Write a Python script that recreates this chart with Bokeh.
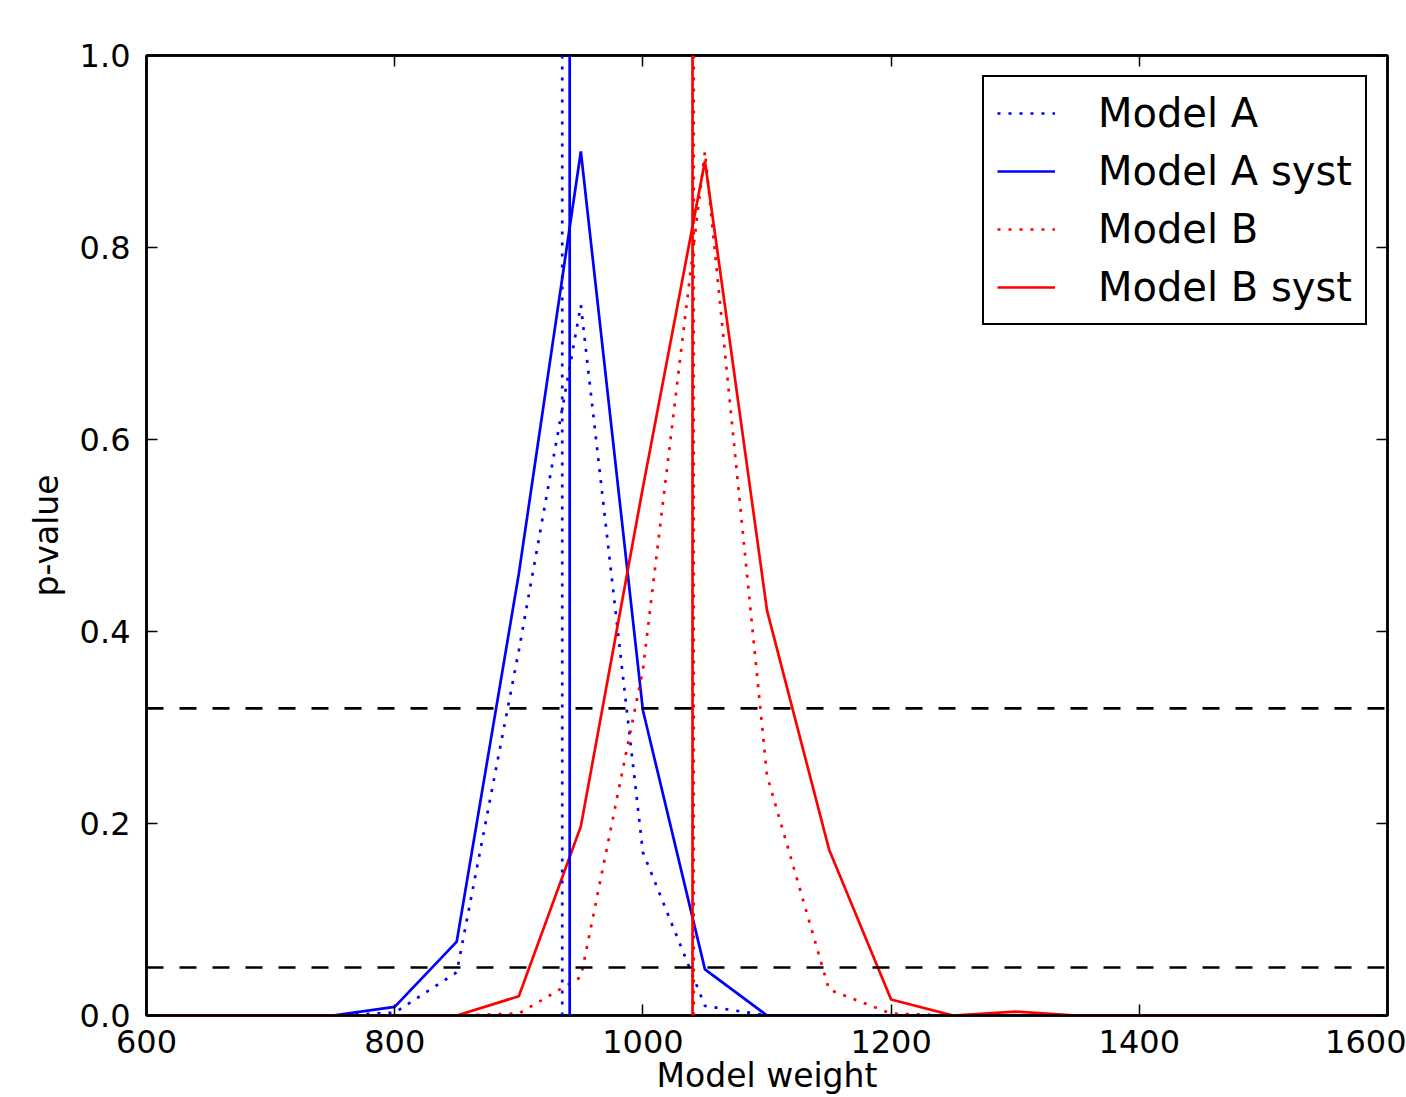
from bokeh.plotting import figure
from bokeh.models import Range1d, Span, LinearAxis, FixedTicker
from bokeh.embed import file_html
from bokeh.resources import INLINE

# ---------------- data ----------------
weights = [600, 650, 700, 750, 800, 850, 900, 950, 1000, 1050, 1100,
           1150, 1200, 1250, 1300, 1350, 1400, 1450, 1500, 1550, 1600]

model_a = [0, 0, 0, 0, 0.003, 0.045, 0.38, 0.74, 0.17, 0.01, 0.0,
           0, 0, 0, 0, 0, 0, 0, 0, 0, 0]
model_a_syst = [0, 0, 0, 0, 0.009, 0.077, 0.46, 0.90, 0.318, 0.048, 0.0,
                0, 0, 0, 0, 0, 0, 0, 0, 0, 0]
model_b = [0, 0, 0, 0, 0, 0, 0.002, 0.04, 0.36, 0.90, 0.25,
           0.027, 0.002, 0, 0, 0, 0, 0, 0, 0, 0]
model_b_syst = [0, 0, 0, 0, 0, 0, 0.02, 0.197, 0.55, 0.89, 0.422,
                0.173, 0.0166, 0.0, 0.004, 0.0, 0, 0, 0, 0, 0]

series_names = ["Model A", "Model A syst", "Model B", "Model B syst"]
best_fit = [935, 941, 1041, 1040]          # vertical lines, same order as series
thresholds = [0.32, 0.05]                   # horizontal dashed lines

x_ticks = [600, 800, 1000, 1200, 1400, 1600]
y_ticks = [0.0, 0.2, 0.4, 0.6, 0.8, 1.0]
y_tick_labels = ["0.0", "0.2", "0.4", "0.6", "0.8", "1.0"]

# ---------------- styles ----------------
FONT = "DejaVu Sans"
colors = ["#0000ff", "#0000ff", "#ff0000", "#ff0000"]
dashes = ["3 8", "solid", "3 8", "solid"]
LW = 2.7

p = figure(width=1406, height=1097, output_backend="svg", toolbar_location=None,
           x_range=Range1d(600, 1600), y_range=Range1d(0, 1),
           min_border_left=146, min_border_right=19, min_border_top=55,
           min_border_bottom=81,
           x_axis_label="Model weight", y_axis_label="p-value")
p.background_fill_color = "white"
p.border_fill_color = "white"
p.xgrid.visible = False
p.ygrid.visible = False
p.outline_line_color = "black"
p.outline_line_width = 2.5

series = [model_a, model_a_syst, model_b, model_b_syst]
for name, ys, c, d in zip(series_names, series, colors, dashes):
    p.line(weights, ys, line_color=c, line_width=LW, line_dash=d, legend_label=name)

for loc, c, d in zip(best_fit, colors, dashes):
    p.add_layout(Span(location=loc, dimension="height", line_color=c,
                      line_width=LW, line_dash=d))

for t in thresholds:
    p.add_layout(Span(location=t, dimension="width", line_color="black",
                      line_width=2.7, line_dash="17 16"))

bottom_ax = p.below[0]
left_ax = p.left[0]

# axes (matplotlib-like box with inward ticks on all sides)
top_ax = LinearAxis()
right_ax = LinearAxis()
p.add_layout(top_ax, "above")
p.add_layout(right_ax, "right")

for ax in (bottom_ax, top_ax):
    ax.ticker = FixedTicker(ticks=x_ticks)
for ax in (left_ax, right_ax):
    ax.ticker = FixedTicker(ticks=y_ticks)
left_ax.major_label_overrides = {v: s for v, s in zip(y_ticks, y_tick_labels)}

for ax in (bottom_ax, top_ax, left_ax, right_ax):
    ax.major_tick_in = 11
    ax.major_tick_out = 0
    ax.minor_tick_line_color = None
    ax.major_tick_line_color = "black"
    ax.major_tick_line_width = 1.5
    ax.axis_line_color = "black"
    ax.axis_line_width = 2.5
    ax.major_label_text_font = FONT
    ax.major_label_text_font_size = "32px"
    ax.major_label_text_color = "black"
    ax.axis_label_text_font = FONT
    ax.axis_label_text_font_size = "33px"
    ax.axis_label_text_font_style = "normal"
    ax.axis_label_text_color = "black"

top_ax.major_label_overrides = {v: "" for v in x_ticks}
right_ax.major_label_overrides = {v: "" for v in y_ticks}
for ax in (top_ax, right_ax):
    ax.major_label_standoff = 0

bottom_ax.major_label_standoff = 14
bottom_ax.axis_label_standoff = 0
left_ax.major_label_standoff = 16
left_ax.axis_label_standoff = 11

lg = p.legend[0]
lg.location = "top_right"
lg.margin = 20
lg.padding = 13
lg.spacing = 12
lg.glyph_width = 58
lg.glyph_height = 40
lg.label_height = 40
lg.label_standoff = 43
lg.border_line_color = "black"
lg.border_line_alpha = 1.0
lg.border_line_width = 2.5
lg.label_text_font = FONT
lg.label_text_font_size = "40px"
lg.label_text_color = "black"
lg.background_fill_color = "white"
lg.background_fill_alpha = 1.0

open("out.html", "w").write(file_html(p, INLINE))
